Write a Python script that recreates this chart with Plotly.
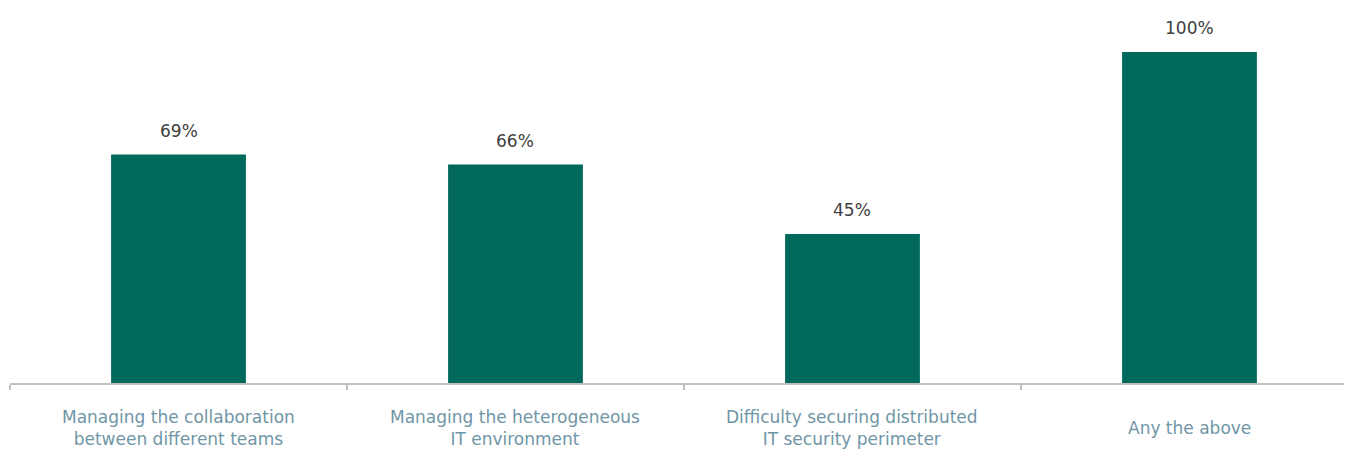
import plotly.graph_objects as go

categories = [
    "Managing the collaboration<br>between different teams",
    "Managing the heterogeneous<br>IT environment",
    "Difficulty securing distributed<br>IT security perimeter",
    "Any the above",
]
values = [69, 66, 45, 100]
value_labels = ["69%", "66%", "45%", "100%"]

bar_color = "#00695B"

fig = go.Figure()
fig.add_trace(go.Bar(
    x=categories,
    y=values,
    marker=dict(color=bar_color, line=dict(width=0)),
    width=0.4,
    hoverinfo="skip",
))

for c, v, t in zip(categories, values, value_labels):
    fig.add_annotation(
        x=c, y=v, text=t, showarrow=False,
        yanchor="bottom", yshift=12,
        font=dict(family="DejaVu Sans", size=17, color="#404040"),
    )

# category labels, vertically centred under each column
for c in categories:
    fig.add_annotation(
        x=c, y=0, text=c, showarrow=False,
        yanchor="middle", yshift=-45,
        font=dict(family="DejaVu Sans", size=17, color="#6f96a6"),
    )

fig.update_layout(
    width=1352, height=453,
    margin=dict(l=2, r=0, t=0, b=78),
    paper_bgcolor="white", plot_bgcolor="white",
    showlegend=False,
    xaxis=dict(
        type="category",
        range=[-0.5, 3.506],
        tickson="boundaries",
        ticks="outside", ticklen=5, tickwidth=2, tickcolor="#c0c0c0",
        showline=True, linecolor="#c0c0c0", linewidth=2,
        showgrid=False, zeroline=False,
        showticklabels=False,
        automargin=False,
    ),
    yaxis=dict(
        range=[0, 113.3],
        visible=False, showgrid=False, zeroline=False,
    ),
)

fig.write_html("out.html")
